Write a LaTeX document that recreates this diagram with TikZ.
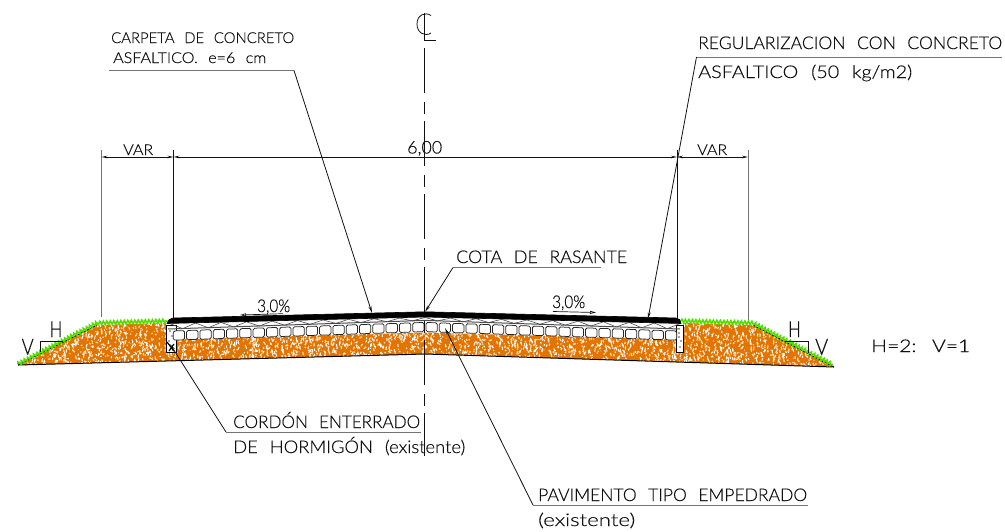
\documentclass[tikz,border=0pt]{standalone}
\usepackage{graphicx}
\usepackage{fontspec}
\usetikzlibrary{arrows.meta,decorations.pathmorphing}
\newfontfamily\cad[UprightFont=* Light,WordSpace=2.4,FakeBold=0.35]{Lato}
\newcommand\cadlab[2]{\resizebox{#1pt}{\height}{\cad #2}}
\definecolor{fillorange}{HTML}{E27500}
\definecolor{grass}{HTML}{55DD00}
\definecolor{ink}{HTML}{111111}
\tikzset{
  lab/.style={anchor=base west,inner sep=0pt,text=ink},
  big/.style={font=\fontsize{17.5}{17.5}\selectfont},
  mid/.style={font=\fontsize{15}{15}\selectfont},
  huge/.style={font=\fontsize{22}{22}\selectfont},
  thinl/.style={line width=.8pt,draw=ink},
  greyl/.style={line width=1pt,draw=black!55},
  leadtip/.style={thinl,-{Stealth[length=7pt,width=3pt]}},
  dimtip/.style={thinl,{Stealth[length=6pt,width=2.6pt]}-{Stealth[length=6pt,width=2.6pt]}},
  slopetip/.style={line width=.7pt,draw=ink,-{Triangle[open,length=6pt,width=3pt]}},
  grassl/.style={draw=grass,line width=1.6pt,decorate,decoration={zigzag,segment length=3.5pt,amplitude=1.7pt}},
  block/.style={fill=white,draw=black!85,line width=.75pt,rounded corners=1.5pt},
}
\begin{document}
\begin{tikzpicture}[x=1pt,y=-1pt]
\useasboundingbox (0,0) rectangle (1005,531);
% earth
\path[fill=fillorange] (18,365)--(97,325)--(166,323)--(166,352)--(176,352)--(176,339.5)--(425,332.5)--(676,339.5)--(676,352)--(683,352)--(683,323)--(753,325)--(834,367)--(425,354)--cycle;
\begin{scope}
\clip (18,365)--(97,325)--(166,323)--(166,352)--(176,352)--(176,339.5)--(425,332.5)--(676,339.5)--(676,352)--(683,352)--(683,323)--(753,325)--(834,367)--(425,354)--cycle;
\pgfmathsetseed{11}
\foreach \i in {1,...,4000}{
  \pgfmathsetmacro\xa{18+rnd*816}
  \pgfmathsetmacro\ya{322+rnd*46}
  \pgfmathsetmacro\dx{(rnd-.5)*3}
  \pgfmathsetmacro\dy{(rnd-.5)*7}
  \draw[white,line width=1pt] (\xa,\ya) -- ++(\dx,\dy);
}
\end{scope}
% regularization layer and cordons
\path[fill=white] (166,323)--(425,313)--(683,323)--(676,339)--(425,332)--(176,339)--cycle;
\draw[black,line width=.9pt,fill=white] (166,325) rectangle (176,352);
\draw[black,line width=.9pt,fill=white] (676,325) rectangle (683,352);
\foreach \p in {(170,331),(172,336),(169,341),(679,333),(681,341),(680,347),(679,337)}
  \fill[black!70] \p circle (.8);
\draw[black,line width=1.2pt] (167,342)--(174,351) (174,344)--(169,351);
% blocks
\foreach \i in {0,...,18}{
  \pgfmathsetmacro\xl{425-13.3*\i-12.3}
  \pgfmathsetmacro\xr{425-13.3*\i-1}
  \pgfmathsetmacro\tl{322.4+(425-\xl)*.034}
  \pgfmathsetmacro\tr{322.4+(425-\xr)*.034}
  \draw[block] (\xl,\tl)--(\xr,\tr)--(\xr,\tr+9.2)--(\xl,\tl+9.2)--cycle;
  \pgfmathsetmacro\ml{425+13.3*\i+1}
  \pgfmathsetmacro\mr{425+13.3*\i+12.3}
  \pgfmathsetmacro\sl{322.4+(\ml-425)*.034}
  \pgfmathsetmacro\sr{322.4+(\mr-425)*.034}
  \draw[block] (\ml,\sl)--(\mr,\sr)--(\mr,\sr+9.2)--(\ml,\sl+9.2)--cycle;
}
% layer line and zigzag
\draw[black!70,line width=1pt] (168,329)--(425,320.4)--(680,329);
\foreach \i in {0,...,9}{
  \pgfmathsetmacro\xa{425-25.5*\i}
  \pgfmathsetmacro\xb{\xa-12.7}
  \pgfmathsetmacro\xc{\xa-25.5}
  \pgfmathsetmacro\ya{317.5+(425-\xa)*.024}
  \pgfmathsetmacro\yb{320.4+(425-\xb)*.034}
  \pgfmathsetmacro\yc{317.5+(425-\xc)*.024}
  \draw[black!70,line width=.6pt] (\xa,\ya)--(\xb,\yb)--(\xc,\yc);
  \pgfmathsetmacro\xd{425+25.5*\i}
  \pgfmathsetmacro\xe{\xd+12.7}
  \pgfmathsetmacro\xf{\xd+25.5}
  \pgfmathsetmacro\yd{317.5+(\xd-425)*.024}
  \pgfmathsetmacro\ye{320.4+(\xe-425)*.034}
  \pgfmathsetmacro\yf{317.5+(\xf-425)*.024}
  \draw[black!70,line width=.6pt] (\xd,\yd)--(\xe,\ye)--(\xf,\yf);
}
% asphalt
\fill[black,draw=black,line width=.6pt] (167,323.5) .. controls (168,320) and (170,318.5) .. (173,318) -- (425,311.8) -- (676,318) .. controls (679,318.5) and (681,320) .. (681,323.5) -- (425,317) -- cycle;
% ground outline and grass
\draw[black,line width=1pt] (18,365)--(425,354)--(834,367);
\draw[black,line width=.9pt] (18,365)--(97,325);
\draw[black,line width=.9pt] (753,325)--(834,367);
\draw[grassl] (18,364)--(97,323)--(167,321);
\draw[grassl] (681,321)--(753,323)--(833,365);
% slope symbols
\draw[thinl] (63,341)--(40,341)--(40,352);
\draw[thinl] (785,341)--(808,341)--(808,353);
\node[lab,huge] (hl) at (49.5,337) {\cadlab{12.5}{H}};
\node[lab,huge] (vl) at (21.5,354.5) {\cadlab{12}{V}};
\node[lab,huge] (hr) at (788,337) {\cadlab{12.5}{H}};
\node[lab,huge] (vr) at (815,354.5) {\cadlab{13}{V}};
\node[lab,big] (ratio) at (871,352) {\cadlab{99}{H=2: V=1}};
% centre line
\coordinate (cltop) at (424.5,48);
\coordinate (clbot) at (424.5,456);
\draw[thinl,dash pattern=on 45pt off 9pt on 12pt off 7pt] (cltop)--(clbot);
\draw[line width=.8pt,draw=ink] (424.5,13)--(424.5,40)--(436,40);
\draw[line width=.8pt,draw=ink] (431,15.5) .. controls (425,11.5) and (417,15) .. (417,24) .. controls (417,33) and (425,37) .. (431,33);
% dimensions
\coordinate (ea) at (101.5,150); \coordinate (eal) at (101.5,317);
\coordinate (eb) at (173.5,150); \coordinate (ebl) at (173.5,319);
\coordinate (ec) at (677,150);   \coordinate (ecl) at (677,319);
\coordinate (ed) at (748,150);   \coordinate (edl) at (748,320);
\draw[greyl] (ea)--(eal);
\draw[thinl,line width=1pt] (eb)--(ebl);
\draw[thinl,line width=1pt] (ec)--(ecl);
\draw[greyl] (ed)--(edl);
\draw[dimtip] (ea|-0,157)--(eb|-0,157);
\draw[dimtip] (eb|-0,157)--(ec|-0,157);
\draw[dimtip] (ec|-0,157)--(ed|-0,157);
\node[lab,mid] (var1) at (123,155) {\cadlab{30}{VAR}};
\node[lab,mid] (var2) at (697,155) {\cadlab{30}{VAR}};
\node[lab,big] (six) at (407,153.5) {\cadlab{35}{6,00}};
% slopes
\node[lab,big] (sa) at (257,312) {\cadlab{33}{3,0\%}};
\node[lab,big] (sb) at (552,308) {\cadlab{33}{3,0\%}};
\draw[slopetip] (283,313.7)--(240,315);
\draw[slopetip] (553,311.5)--(596,312.5);
% labels & leaders
\node[lab,mid] (t1) at (111,43) {\cadlab{183}{CARPETA DE CONCRETO}};
\node[lab,mid] (t2) at (113,63) {\cadlab{153}{ASFALTICO. e=6 cm}};
\coordinate (l1a) at (109,70.5); \coordinate (l1b) at (294,70.5); \coordinate (l1c) at (372,313);
\draw[greyl] (l1a)--(l1b);
\draw[leadtip] (l1b)--(l1c);
\node[lab,big] (t3) at (698,49) {\cadlab{304}{REGULARIZACION CON CONCRETO}};
\node[lab,big] (t4) at (698,78) {\cadlab{214}{ASFALTICO (50 kg/m2)}};
\coordinate (l2a) at (1002,57); \coordinate (l2b) at (696.5,57); \coordinate (l2c) at (648,319);
\draw[greyl] (l2a)--(l2b);
\draw[leadtip] (l2b)--(l2c);
\node[lab,big] (t5) at (456,263) {\cadlab{171}{COTA DE RASANTE}};
\coordinate (l3a) at (601,267.5); \coordinate (l3b) at (453,267.5); \coordinate (l3c) at (425,312);
\draw[greyl] (l3a)--(l3b);
\draw[leadtip] (l3b)--(l3c);
\node[lab,big] (t6) at (233,428) {\cadlab{187}{CORDÓN ENTERRADO}};
\node[lab,big] (t7) at (233,453) {\cadlab{232}{DE HORMIGÓN (existente)}};
\coordinate (l4a) at (421,432); \coordinate (l4b) at (226,432); \coordinate (l4c) at (170,344);
\draw[greyl] (l4a)--(l4b);
\draw[leadtip] (l4b)--(l4c);
\node[lab,big] (t8) at (538,501) {\cadlab{269}{PAVIMENTO TIPO EMPEDRADO}};
\node[lab,big] (t9) at (538,526) {\cadlab{97}{(existente)}};
\coordinate (l5a) at (808,505); \coordinate (l5b) at (533,505); \coordinate (l5c) at (445,328);
\draw[greyl] (l5a)--(l5b);
\draw[leadtip] (l5b)--(l5c);
\end{tikzpicture}
\end{document}
